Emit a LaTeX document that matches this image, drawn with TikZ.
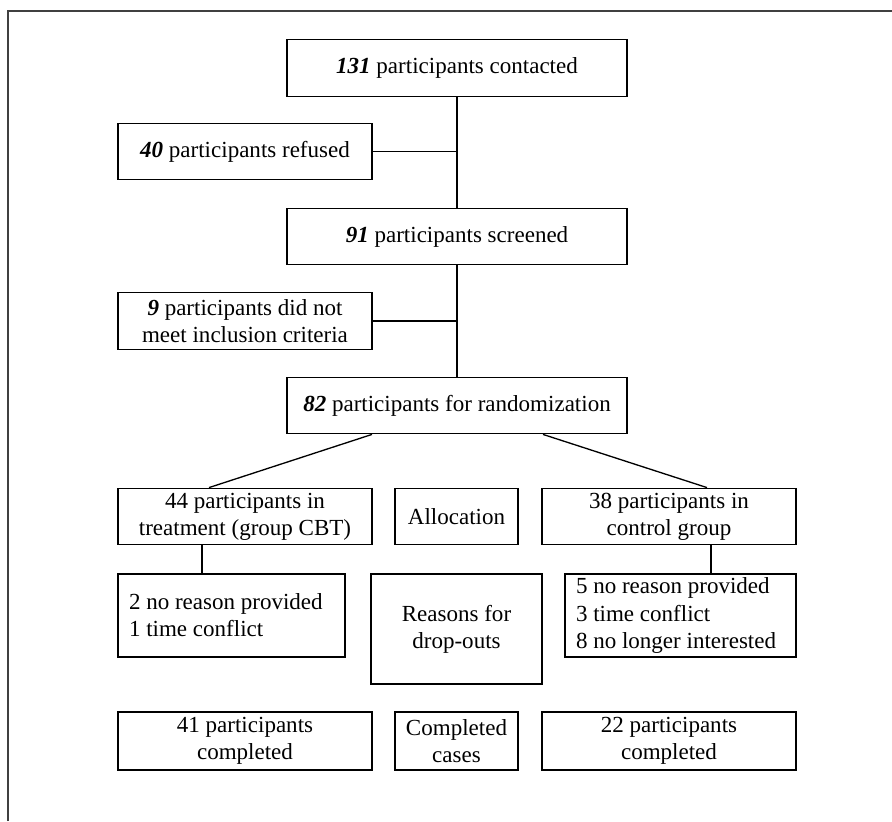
\documentclass[tikz,border=0pt]{standalone}
\usepackage{fontspec}
\setmainfont{Liberation Serif}
\usepackage{tikz}
\tikzset{
    box/.style={draw, line width=0.75pt, inner sep=0pt, align=center, minimum height=1.13cm}, % 方框
    lbox/.style={box, align=flush left, inner xsep=0.22cm}, % 左对齐的方框
    link/.style={line width=0.75pt}, % 连线
    frame/.style={line width=0.9pt, black!75} % 外框
}
\newcommand{\nb}[1]{\textbf{\textit{#1}}}

\begin{document}
\begin{tikzpicture}[font=\fontsize{13.1}{15.4}\selectfont]
            \useasboundingbox (0,0) rectangle (17.84,-16.42);
            \draw[frame] (0.16,-16.42) -- (0.16,-0.22) -- (17.84,-0.22);

            \node[box, minimum width=6.8cm] (contact) at (9.14,-1.36) {\nb{131} participants contacted};
            \node[box, minimum width=5.08cm] (refused) at (4.9,-3.03) {\nb{40} participants refused};
            \node[box, minimum width=6.8cm] (screened) at (9.14,-4.73) {\nb{91} participants screened};
            \node[box, minimum width=5.08cm] (excluded) at (4.9,-6.42) {\nb{9} participants did not\\meet inclusion criteria};
            \node[box, minimum width=6.8cm] (random) at (9.14,-8.11) {\nb{82} participants for randomization};

            \node[box, minimum width=5.08cm] (treat) at (4.9,-10.33) {44 participants in\\treatment (group CBT)};
            \node[box, minimum width=2.46cm] (alloc) at (9.13,-10.33) {Allocation};
            \node[box, minimum width=5.08cm] (control) at (13.38,-10.33) {38 participants in\\control group};

            \node[lbox, text width=4.1cm, minimum height=1.66cm] (dropT) at (4.63,-12.31) {2 no reason provided\\1 time conflict};
            \node[box, minimum width=3.42cm, minimum height=2.2cm] (reasons) at (9.13,-12.58) {Reasons for\\drop-outs};
            \node[lbox, text width=4.18cm, minimum height=1.66cm] (dropC) at (13.61,-12.31) {5 no reason provided\\3 time conflict\\8 no longer interested};

            \node[box, minimum width=5.08cm, minimum height=1.16cm] (doneT) at (4.9,-14.82) {41 participants\\completed};
            \node[box, minimum width=2.46cm, minimum height=1.16cm] (done) at (9.13,-14.82) {Completed\\cases};
            \node[box, minimum width=5.08cm, minimum height=1.16cm] (doneC) at (13.38,-14.82) {22 participants\\completed};

            \draw[link] (contact.south) -- (screened.north);
            \draw[link] (refused.east) -- (refused.east -| contact.south);
            \draw[link] (screened.south) -- (random.north);
            \draw[link] (excluded.east) -- (excluded.east -| screened.south);
            \draw[link] ([xshift=-1.7cm]random.south) -- ([xshift=-0.72cm]treat.north);
            \draw[link] ([xshift=1.72cm]random.south) -- ([xshift=0.76cm]control.north);
            \draw[link] ([xshift=-0.86cm]treat.south) -- ([xshift=-0.86cm]treat.south |- dropT.north);
            \draw[link] ([xshift=0.84cm]control.south) -- ([xshift=0.84cm]control.south |- dropC.north);
        \end{tikzpicture}
\end{document}
